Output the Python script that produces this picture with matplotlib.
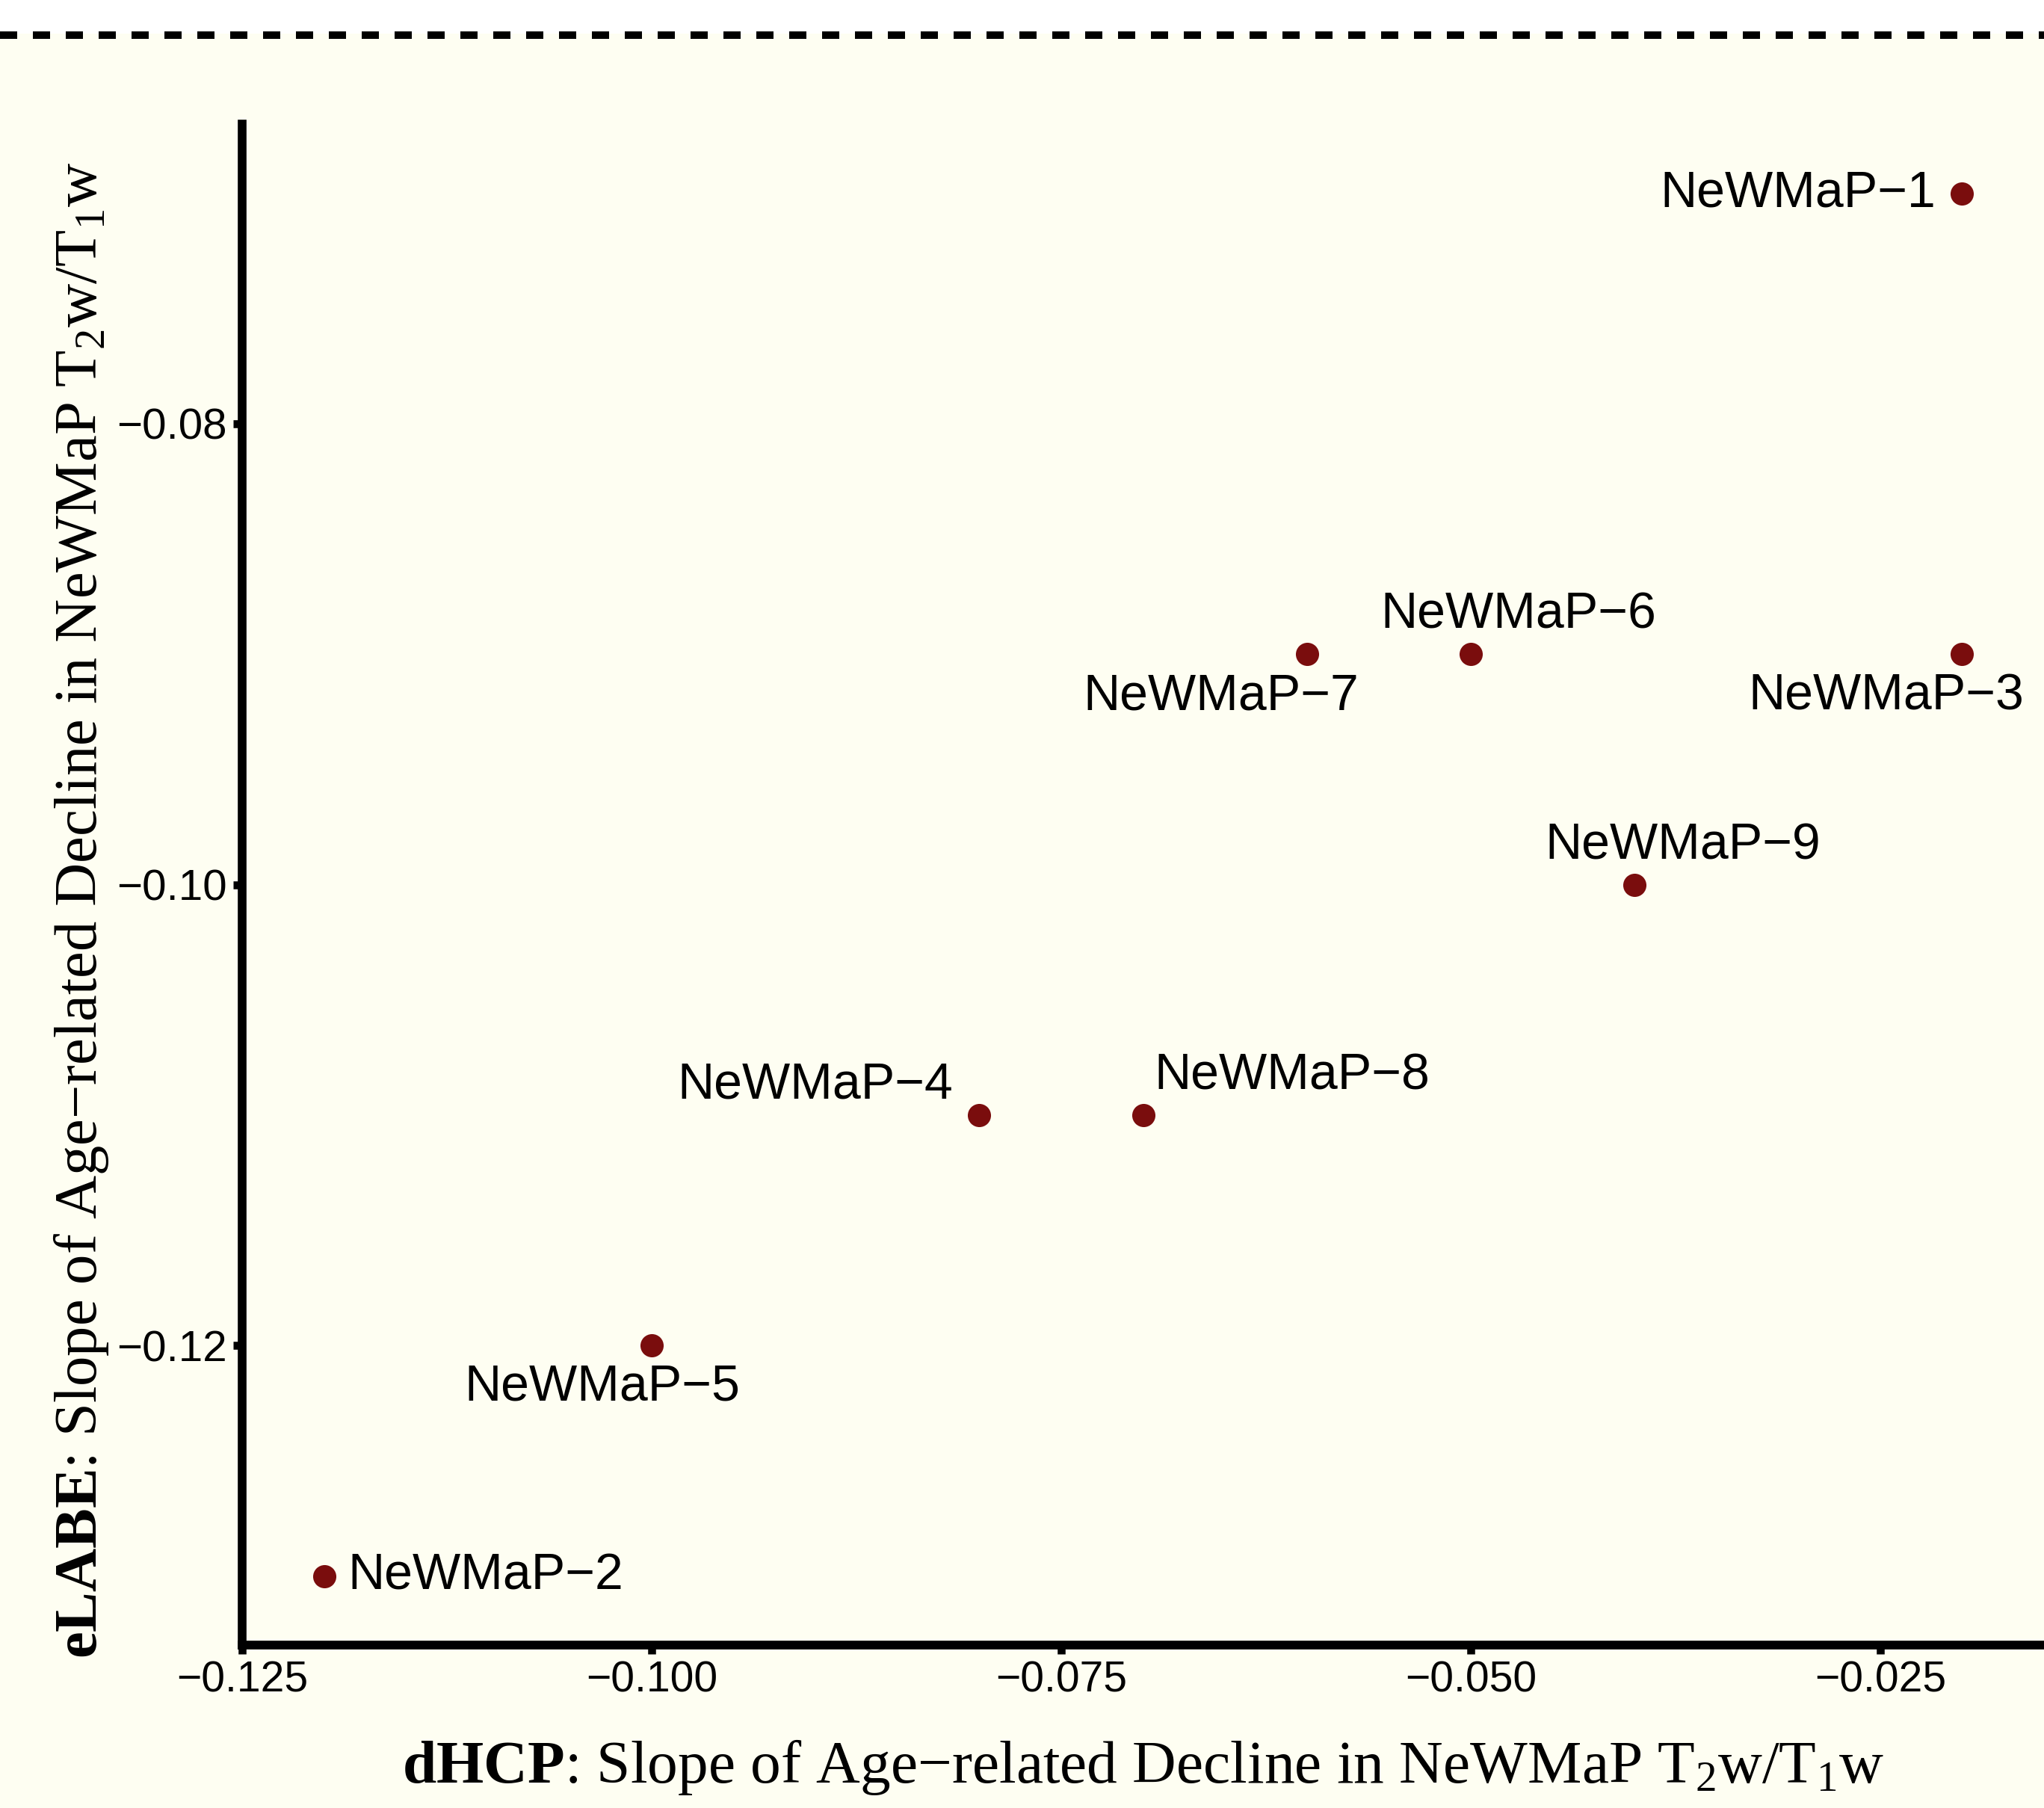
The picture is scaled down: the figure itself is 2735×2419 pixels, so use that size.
import matplotlib.pyplot as plt
from matplotlib.lines import Line2D
from matplotlib.patches import Rectangle

# slopes of age-related decline, per NeWMaP network
networks = ['NeWMaP−1', 'NeWMaP−2', 'NeWMaP−3', 'NeWMaP−4', 'NeWMaP−5',
            'NeWMaP−6', 'NeWMaP−7', 'NeWMaP−8', 'NeWMaP−9']
dhcp_slope = [-0.02, -0.12, -0.02, -0.08, -0.10, -0.05, -0.06, -0.07, -0.04]
elabe_slope = [-0.07, -0.13, -0.09, -0.11, -0.12, -0.09, -0.09, -0.11, -0.10]

x_ticks = [-0.125, -0.100, -0.075, -0.050, -0.025]
x_tick_labels = ['−0.125', '−0.100', '−0.075', '−0.050', '−0.025']
y_ticks = [-0.12, -0.10, -0.08]
y_tick_labels = ['−0.12', '−0.10', '−0.08']

# label offsets in points (dx, dy, ha)
label_pos = [(-12.6, 0, 'right'), (11.3, 0, 'left'), (-36.4, -20.1, 'center'),
             (-79, 14.4, 'center'), (-23.9, -20.1, 'center'), (23.2, 18.8, 'center'),
             (-41.4, -20.1, 'center'), (71.6, 18.8, 'center'), (23.2, 18.8, 'center')]

BG = '#fefef2'
POINT = '#7a0d0d'

plt.rcParams['mathtext.fontset'] = 'custom'
plt.rcParams['mathtext.rm'] = 'Liberation Serif'
plt.rcParams['mathtext.it'] = 'Liberation Serif:italic'
plt.rcParams['mathtext.bf'] = 'Liberation Serif:bold'

W, H, DPI = 2735, 2419, 200
fig = plt.figure(figsize=(W / DPI, H / DPI), dpi=DPI, facecolor=BG)

# white strip and dashed separator at the top
fig.add_artist(Rectangle((0, 1 - 45 / H), 1, 45 / H, transform=fig.transFigure,
                         facecolor='white', edgecolor='none'))
fig.add_artist(Line2D([0, 1], [1 - 47 / H, 1 - 47 / H], transform=fig.transFigure,
                      color='black', lw=3.6, linestyle=(0, (2.3, 2.1))))

left, right, top, bottom = 324, 2735, 166, 2201
ax = fig.add_axes([left / W, 1 - bottom / H, (right - left) / W, (bottom - top) / H])
ax.set_facecolor(BG)

ax.scatter(dhcp_slope, elabe_slope, s=125, color=POINT, zorder=3, linewidths=0)
for name, x, y, (dx, dy, ha) in zip(networks, dhcp_slope, elabe_slope, label_pos):
    ax.annotate(name, (x, y), xytext=(dx, dy), textcoords='offset points',
                ha=ha, va='center', fontsize=24.5, family='Liberation Sans')

ax.set_xlim(-0.125, -0.015)
ax.set_ylim(-0.133, -0.067)

for side in ['top', 'right']:
    ax.spines[side].set_visible(False)
for side in ['left', 'bottom']:
    ax.spines[side].set_linewidth(4.2)

ax.set_xticks(x_ticks, x_tick_labels, family='Liberation Sans', fontsize=20.5)
ax.set_yticks(y_ticks, y_tick_labels, family='Liberation Sans', fontsize=21)
ax.tick_params(length=4.2, width=3.8, pad=3)

ax.set_xlabel(r'$\mathbf{dHCP}$: Slope of Age−related Decline in NeWMaP T$_2$w/T$_1$w',
              family='Liberation Serif', fontsize=29.3, labelpad=18)
ax.set_ylabel(r'$\mathbf{eLABE}$: Slope of Age−related Decline in NeWMaP T$_2$w/T$_1$w',
              family='Liberation Serif', fontsize=29)
ax.yaxis.set_label_coords(-0.073, 0.483)

fig.savefig('out.png', dpi=DPI, facecolor=BG)
